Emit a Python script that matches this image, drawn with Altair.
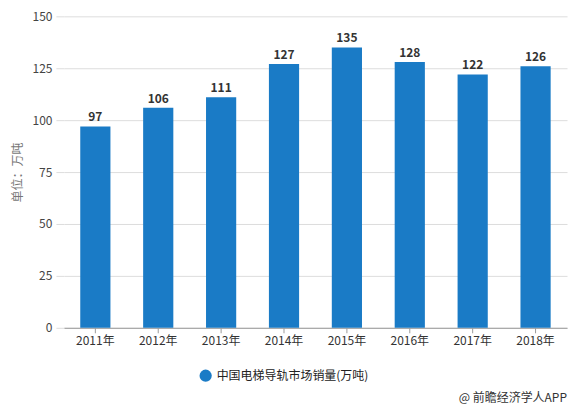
import altair as alt
import pandas as pd

years = ["2011年", "2012年", "2013年", "2014年", "2015年", "2016年", "2017年", "2018年"]
sales = [97, 106, 111, 127, 135, 128, 122, 126]
series_name = "中国电梯导轨市场销量(万吨)"
y_ticks = [0, 25, 50, 75, 100, 125, 150]
credit = ["@ 前瞻经济学人APP"]

df = pd.DataFrame({"year": years, "value": sales, "series": [series_name] * len(years)})
credit_df = pd.DataFrame({"text": credit})

FONT = "Noto Sans CJK SC"
BLUE = "#1a7bc6"

base = alt.Chart(df)

bars = base.mark_bar(color=BLUE).encode(
    x=alt.X("year:N", sort=years, title=None,
            scale=alt.Scale(paddingInner=0.52, paddingOuter=0.26),
            axis=alt.Axis(labelAngle=0, labelFont=FONT, labelFontSize=12, labelColor="#333333",
                          domainColor="#9a9a9a", tickColor="#9a9a9a", tickSize=5, labelPadding=3)),
    y=alt.Y("value:Q", title="单位：万吨",
            scale=alt.Scale(domain=[0, 150], nice=False),
            axis=alt.Axis(values=y_ticks, domain=False, tickSize=8, tickColor="#dddddd",
                          gridColor="#dddddd", labelFont=FONT, labelFontSize=12,
                          labelColor="#444444", labelPadding=4, titleFont=FONT,
                          titleFontSize=12, titleFontWeight="normal", titleColor="#777777",
                          titlePadding=7)),
    fill=alt.Fill("series:N", scale=alt.Scale(range=[BLUE]),
                  legend=alt.Legend(title=None, orient="none", legendX=135, legendY=353,
                                    symbolType="circle", symbolSize=150, labelFont=FONT,
                                    labelFontSize=12, labelColor="#222222", labelLimit=400)),
)

labels = base.mark_text(dy=-9, font=FONT, fontSize=12, fontWeight="bold", color="#333333").encode(
    x=alt.X("year:N", sort=years),
    y="value:Q",
    text="value:Q",
)

watermark = alt.Chart(credit_df).mark_text(align="right", font=FONT, fontSize=12,
                                           color="#333333").encode(
    x=alt.value(504), y=alt.value(382), text="text:N"
)

chart = alt.layer(bars, labels, watermark).properties(
    width=504, height=312,
    autosize=alt.AutoSizeParams(type="none"),
    padding={"left": 56, "top": 8, "right": 2, "bottom": 80},
).configure_view(stroke=None)

chart.save("out.html", embed_options={"renderer": "svg", "actions": False})
